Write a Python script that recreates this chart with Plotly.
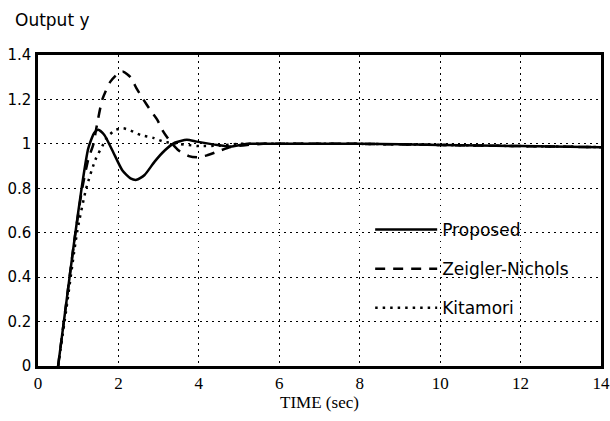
import plotly.graph_objects as go

# Proposed controller response
t_prop = [0.5, 0.7, 0.9, 1.1, 1.25, 1.4, 1.5, 1.65, 1.85, 2.1, 2.3, 2.45, 2.65, 2.9, 3.15,
          3.4, 3.7, 3.95, 4.46, 4.79, 5.2, 6, 8, 10, 12, 14]
y_prop = [0, 0.28, 0.56, 0.82, 0.98, 1.05, 1.063, 1.04, 0.97, 0.88, 0.845, 0.838, 0.86, 0.92, 0.97,
          1.005, 1.018, 1.01, 0.995, 0.988, 1.0, 1.0, 1.0, 0.995, 0.99, 0.985]

# Zeigler-Nichols response
t_zn = [0.5, 0.7, 0.9, 1.1, 1.25, 1.38, 1.45, 1.6, 1.8, 2.0, 2.12, 2.3, 2.45, 2.62, 2.8, 2.96,
        3.1, 3.29, 3.5, 3.75, 3.96, 4.2, 4.46, 4.79, 5.2, 5.6, 6, 8, 10, 12, 14]
y_zn = [0, 0.28, 0.56, 0.8, 0.93, 1.0, 1.07, 1.2, 1.28, 1.318, 1.325, 1.3, 1.25, 1.2, 1.15, 1.11,
        1.06, 1.01, 0.97, 0.945, 0.94, 0.948, 0.965, 0.986, 0.995, 1.0, 1.0, 1.0, 0.995, 0.99, 0.985]

# Kitamori response
t_kit = [0.5, 0.7, 0.97, 1.2, 1.43, 1.6, 1.72, 1.93, 2.12, 2.3, 2.55, 2.87, 3.12, 3.5, 4.0,
         4.5, 5.0, 6, 8, 10, 12, 14]
y_kit = [0, 0.25, 0.6, 0.8, 0.93, 0.99, 1.03, 1.063, 1.07, 1.06, 1.04, 1.027, 1.01, 1.0, 0.99,
         0.992, 1.0, 1.0, 1.0, 0.995, 0.99, 0.985]

x_ticks = [0, 2, 4, 6, 8, 10, 12, 14]
y_ticks = [0, 0.2, 0.4, 0.6, 0.8, 1, 1.2, 1.4]
y_tick_text = ["0", "0.2", "0.4", "0.6", "0.8", "1", "1.2", "1.4"]

fig = go.Figure()
fig.add_trace(go.Scatter(x=t_prop, y=y_prop, mode="lines", name="Proposed", legendgroup="a",
                         line=dict(color="black", width=2.5, shape="spline", smoothing=0.6)))
fig.add_trace(go.Scatter(x=t_zn, y=y_zn, mode="lines", name="Zeigler-Nichols", legendgroup="b",
                         line=dict(color="black", width=2.5, dash="10px,8px", shape="spline", smoothing=0.6)))
fig.add_trace(go.Scatter(x=t_kit, y=y_kit, mode="lines", name="Kitamori", legendgroup="c",
                         line=dict(color="black", width=2.5, dash="2.5px,5px", shape="spline", smoothing=0.6)))

serif = "Liberation Serif"
sans = "DejaVu Sans"

fig.update_layout(
    width=610, height=421,
    margin=dict(l=38, r=9, t=55, b=55, autoexpand=False),
    paper_bgcolor="white", plot_bgcolor="white",
    showlegend=True,
    legend=dict(x=0.59, y=0.495, xanchor="left", yanchor="top", bgcolor="rgba(0,0,0,0)",
                font=dict(family=sans, size=17, color="black"), tracegroupgap=14,
                itemwidth=62),
    xaxis=dict(range=[0, 14], tickvals=x_ticks, showgrid=True, gridcolor="black", gridwidth=1,
               griddash="1.5px,4.5px", showline=True, linecolor="black", linewidth=2.5, mirror=True,
               ticks="", zeroline=False, automargin=False,
               tickfont=dict(family=serif, size=17, color="black"),
               title=dict(text="TIME (sec)", font=dict(family=serif, size=17, color="black"), standoff=1)),
    yaxis=dict(range=[0, 1.4], tickvals=y_ticks, ticktext=y_tick_text, showgrid=True, gridcolor="black",
               gridwidth=1, griddash="1.5px,4.5px", showline=True, linecolor="black", linewidth=2.5,
               mirror=True, ticks="", zeroline=False, ticklabelstandoff=1, automargin=False,
               tickfont=dict(family=sans, size=15, color="black")),
    annotations=[dict(text="Output y", x=-0.044, y=1.0, xref="paper", yref="paper", xanchor="left",
                      yanchor="bottom", showarrow=False, yshift=23,
                      font=dict(family=sans, size=17, color="black"))],
)

fig.write_html("out.html", config={"displayModeBar": False},
               post_script="document.body.style.margin='0';document.body.style.overflow='hidden';")
